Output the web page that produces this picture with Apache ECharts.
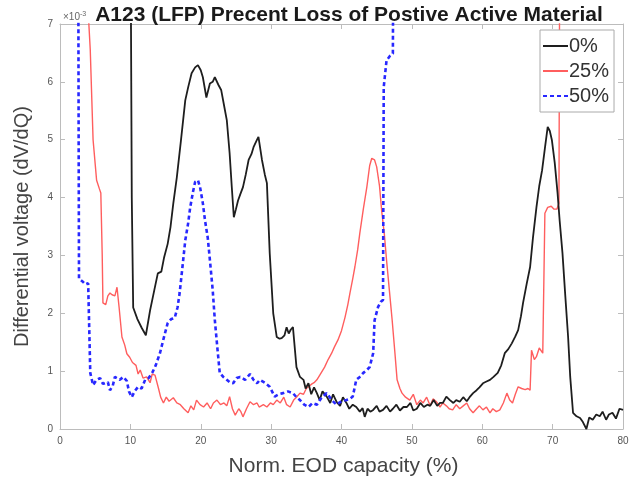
<!DOCTYPE html>
<html>
<head>
<meta charset="utf-8">
<script src="https://cdn.jsdelivr.net/npm/echarts@6/dist/echarts.min.js"></script>
<style>html,body{margin:0;padding:0;background:#fff}#c{width:637px;height:487px}</style>
</head>
<body>
<div id="c"></div>
<script>
// Values in units of 1e-3 (dV/dQ), x = Norm. EOD capacity (%)
const seriesNames = ['0%', '25%', '50%'];
const xTicks = [0, 10, 20, 30, 40, 50, 60, 70, 80];
const yTicks = [0, 1, 2, 3, 4, 5, 6, 7];

const cap0 = [10.05,10.2,10.4,11.0,11.6,12.2,12.8,13.4,13.9,14.4,14.8,15.3,15.7,16.1,16.6,17.2,17.8,18.2,18.7,19.2,19.6,20.0,20.3,20.8,21.3,21.7,22.0,22.5,22.9,23.3,23.7,24.1,24.4,24.7,25.0,25.3,25.6,26.0,26.4,26.8,27.2,27.5,28.0,28.2,28.7,29.1,29.4,29.8,30.3,30.8,31.2,31.5,31.9,32.2,32.5,32.8,33.1,33.6,34.1,34.6,34.9,35.3,35.7,36.1,36.5,36.9,37.3,37.9,38.4,38.8,39.3,39.8,40.2,40.7,41.1,41.6,42.1,42.6,43.0,43.3,43.7,44.1,44.5,45.0,45.4,45.9,46.4,46.9,47.3,47.8,48.3,48.8,49.3,49.8,50.2,50.7,51.2,51.7,52.2,52.6,53.1,53.6,54.0,54.4,54.9,55.4,55.9,56.3,56.8,57.3,57.8,58.2,58.7,59.2,59.6,60.1,60.6,61.1,61.6,62.2,62.7,63.2,63.7,64.2,64.7,65.1,65.5,65.8,66.3,66.8,67.2,67.7,68.1,68.5,68.9,69.3,69.6,69.9,70.3,70.7,71.0,71.4,71.8,72.2,72.5,72.9,73.4,73.9,74.3,74.8,75.2,75.7,76.2,76.7,77.1,77.6,78.0,78.5,79.0,79.5,80.0];
const dvdq0 = [8.0,4.0,2.1,1.9,1.75,1.62,2.05,2.4,2.69,2.72,2.97,3.2,3.49,3.9,4.35,5.0,5.68,5.9,6.15,6.25,6.29,6.2,6.08,5.73,5.97,6.0,6.08,5.95,5.86,5.6,5.34,4.77,4.2,3.66,3.8,3.95,4.05,4.18,4.4,4.65,4.75,4.87,5.0,5.05,4.65,4.4,4.25,3.04,2.0,1.59,1.56,1.57,1.62,1.76,1.65,1.72,1.76,1.07,0.9,0.85,0.7,0.79,0.6,0.72,0.62,0.5,0.65,0.56,0.45,0.6,0.47,0.4,0.55,0.45,0.35,0.42,0.38,0.3,0.36,0.21,0.35,0.3,0.33,0.4,0.3,0.33,0.4,0.3,0.35,0.42,0.32,0.38,0.38,0.45,0.32,0.35,0.45,0.38,0.42,0.4,0.5,0.4,0.45,0.45,0.56,0.5,0.45,0.5,0.47,0.55,0.48,0.55,0.62,0.67,0.72,0.79,0.82,0.85,0.9,0.97,1.1,1.31,1.38,1.48,1.6,1.71,1.95,2.18,2.5,2.8,3.3,3.83,4.2,4.47,4.85,5.22,5.15,4.99,4.6,4.08,3.6,3.04,2.3,1.59,0.9,0.28,0.22,0.19,0.12,0.0,0.2,0.16,0.25,0.22,0.3,0.16,0.25,0.28,0.18,0.35,0.33];

const cap25 = [4.0,4.1,4.3,4.7,5.2,5.6,5.8,6.0,6.1,6.5,6.8,7.1,7.4,7.8,8.1,8.4,8.8,9.2,9.5,9.9,10.3,10.8,11.1,11.4,11.8,12.3,12.8,13.1,13.5,14.0,14.3,14.7,15.1,15.5,16.1,16.6,17.1,17.6,18.2,18.6,19.0,19.4,19.9,20.4,20.9,21.4,21.8,22.3,22.8,23.3,23.7,24.1,24.5,24.9,25.4,25.7,26.0,26.5,27.0,27.5,28.0,28.3,28.9,29.4,29.9,30.3,30.8,31.3,31.8,32.2,32.7,33.2,33.6,34.1,34.6,35.0,35.3,35.8,36.1,36.5,37.0,37.6,38.1,38.6,39.0,39.5,40.0,40.5,40.9,41.2,41.6,41.9,42.3,42.6,43.1,43.6,44.0,44.3,44.7,45.0,45.4,45.7,46.1,46.4,46.8,47.2,47.6,47.9,48.3,48.6,49.1,49.7,50.2,50.7,51.2,51.6,52.1,52.6,53.0,53.5,54.0,54.4,54.9,55.3,55.8,56.3,56.8,57.3,57.8,58.2,58.7,59.2,59.6,60.1,60.6,61.1,61.5,62.0,62.5,63.0,63.5,63.9,64.3,64.7,65.1,65.6,66.1,66.5,66.8,67.0,67.4,67.7,68.1,68.6,68.9,69.3,69.8,70.2,70.6,70.9,71.0];
const dvdq25 = [8.0,7.0,6.55,5.0,4.3,4.15,4.08,3.0,2.18,2.15,2.3,2.35,2.32,2.3,2.45,2.1,1.59,1.45,1.3,1.24,1.15,1.1,0.95,1.02,0.88,0.9,0.8,0.95,0.93,0.7,0.55,0.45,0.55,0.48,0.54,0.45,0.42,0.35,0.28,0.4,0.33,0.5,0.42,0.38,0.45,0.35,0.45,0.5,0.42,0.45,0.4,0.56,0.35,0.24,0.35,0.3,0.21,0.35,0.47,0.42,0.45,0.38,0.42,0.38,0.45,0.42,0.5,0.45,0.55,0.42,0.38,0.5,0.55,0.62,0.6,0.7,0.73,0.78,0.8,0.85,0.95,1.07,1.2,1.31,1.42,1.54,1.7,1.93,2.15,2.35,2.6,2.8,3.1,3.38,3.8,4.18,4.55,4.68,4.65,4.53,4.2,3.78,3.35,2.92,2.4,1.88,1.3,0.85,0.7,0.62,0.55,0.5,0.6,0.42,0.5,0.45,0.55,0.4,0.52,0.47,0.38,0.45,0.4,0.35,0.33,0.42,0.35,0.4,0.45,0.35,0.28,0.35,0.4,0.33,0.38,0.28,0.35,0.3,0.33,0.45,0.62,0.5,0.45,0.6,0.73,0.7,0.68,0.7,0.67,1.36,1.2,1.25,1.4,1.31,3.73,3.83,3.85,3.8,3.8,3.9,8.0];

const cap50 = [2.6,2.65,2.7,3.2,3.6,4.0,4.2,4.3,4.7,5.2,5.7,6.1,6.8,7.1,7.5,7.8,8.5,9.0,9.5,9.8,10.2,10.6,11.1,11.6,12.1,12.6,13.1,13.6,14.2,14.8,15.3,15.8,16.3,16.7,17.0,17.4,17.8,18.2,18.5,18.9,19.2,19.6,19.9,20.3,20.6,21.0,21.3,21.7,22.0,22.4,22.7,23.2,23.7,24.2,24.6,25.1,25.6,26.3,27.0,27.5,28.0,28.4,29.1,29.8,30.5,31.1,31.7,32.4,33.1,33.6,34.1,34.7,35.3,35.9,36.5,37.2,37.9,38.6,39.3,40.0,40.7,41.2,41.6,42.1,42.6,43.1,43.6,44.0,44.5,44.7,45.2,45.6,45.9,46.0,46.4,46.9,47.3,47.35];
const dvdq50 = [8.0,5.0,2.6,2.55,2.5,2.52,1.5,0.97,0.76,0.85,0.88,0.78,0.81,0.67,0.75,0.9,0.85,0.9,0.83,0.65,0.55,0.65,0.73,0.7,0.85,0.88,0.97,1.1,1.31,1.6,1.83,1.9,1.92,2.1,2.35,2.8,3.26,3.55,3.83,4.1,4.27,4.3,4.18,3.9,3.61,3.3,2.92,2.4,1.88,1.35,0.97,0.9,0.85,0.8,0.79,0.88,0.9,0.85,0.95,0.85,0.79,0.85,0.8,0.73,0.56,0.6,0.62,0.65,0.62,0.55,0.5,0.42,0.38,0.45,0.42,0.55,0.62,0.5,0.42,0.48,0.5,0.52,0.56,0.85,0.9,0.97,1.02,1.07,1.31,1.88,2.11,2.2,2.23,5.91,6.37,6.45,6.49,8.0];

function pairs(xs, ys) { return xs.map((x, i) => [x, ys[i]]); }

const FONT = 'Liberation Sans, Arial, sans-serif';
const chart = echarts.init(document.getElementById('c'), null, {renderer: 'canvas'});
const frameColor = '#bcbcbc';
const tickLabel = {color: '#555', fontSize: 10, fontFamily: FONT};
function axisBase(extra) {
  return Object.assign({
    type: 'value',
    axisLine: {show: true, onZero: false, lineStyle: {color: frameColor, width: 1}},
    axisTick: {show: true, inside: true, length: 5, lineStyle: {color: frameColor}},
    splitLine: {show: false}
  }, extra);
}
const xMin = xTicks[0], xMax = xTicks[xTicks.length - 1];
const yMin = yTicks[0], yMax = yTicks[yTicks.length - 1];

chart.setOption({
  animation: false,
  backgroundColor: '#fff',
  title: {
    text: 'A123 (LFP) Precent Loss of Postive Active Material',
    left: 344, top: 0, textAlign: 'center',
    textStyle: {fontSize: 21, fontWeight: 'bold', color: '#1a1a1a', fontFamily: FONT}
  },
  grid: {left: 60, right: 14, top: 24, bottom: 58},
  legend: {
    orient: 'vertical', left: 540, top: 30,
    data: seriesNames,
    itemWidth: 25, itemHeight: 10, itemGap: 5,
    padding: [6, 5, 6, 2],
    itemStyle: {opacity: 0},
    backgroundColor: '#fff', borderColor: '#aaa', borderWidth: 1, borderRadius: 0,
    textStyle: {fontSize: 20, color: '#333', padding: [0, 0, 0, -4], fontFamily: FONT}
  },
  xAxis: [
    axisBase({min: xMin, max: xMax, interval: 10, position: 'bottom',
      name: 'Norm. EOD capacity (%)', nameLocation: 'middle', nameGap: 27,
      nameTextStyle: {fontSize: 21, color: '#444', fontFamily: FONT, padding: [0, 0, 0, 4]},
      axisLabel: Object.assign({margin: 7}, tickLabel)}),
    axisBase({min: xMin, max: xMax, interval: 10, position: 'top', axisLabel: {show: false}})
  ],
  yAxis: [
    axisBase({min: yMin, max: yMax, interval: 1, position: 'left',
      name: 'Differential voltage (dV/dQ)', nameLocation: 'middle', nameGap: 28,
      nameTextStyle: {fontSize: 20, color: '#444', fontFamily: FONT},
      axisLabel: Object.assign({margin: 7}, tickLabel)}),
    axisBase({min: yMin, max: yMax, interval: 1, position: 'right', axisLabel: {show: false}})
  ],
  graphic: [{
    type: 'text', left: 63, top: 11,
    style: {
      text: '{a|×10}{b|-3}',
      rich: {
        a: {fontSize: 10, fill: '#666', fontFamily: FONT, verticalAlign: 'bottom'},
        b: {fontSize: 7, fill: '#666', fontFamily: FONT, verticalAlign: 'top', padding: [0, 0, 4, 0]}
      }
    }
  }],
  series: [
    {name: seriesNames[0], type: 'line', data: pairs(cap0, dvdq0), showSymbol: false, symbol: 'none', clip: true,
      lineStyle: {color: '#1e1e1e', width: 1.8}, itemStyle: {color: '#1e1e1e'}, z: 3},
    {name: seriesNames[1], type: 'line', data: pairs(cap25, dvdq25), showSymbol: false, symbol: 'none', clip: true,
      lineStyle: {color: '#ff5e5e', width: 1.4}, itemStyle: {color: '#ff5e5e'}, z: 2},
    {name: seriesNames[2], type: 'line', data: pairs(cap50, dvdq50), showSymbol: false, symbol: 'none', clip: true,
      lineStyle: {color: '#2828ff', width: 2.6, type: [4, 3]}, itemStyle: {color: '#2828ff'}, z: 4}
  ]
});
</script>
</body>
</html>
